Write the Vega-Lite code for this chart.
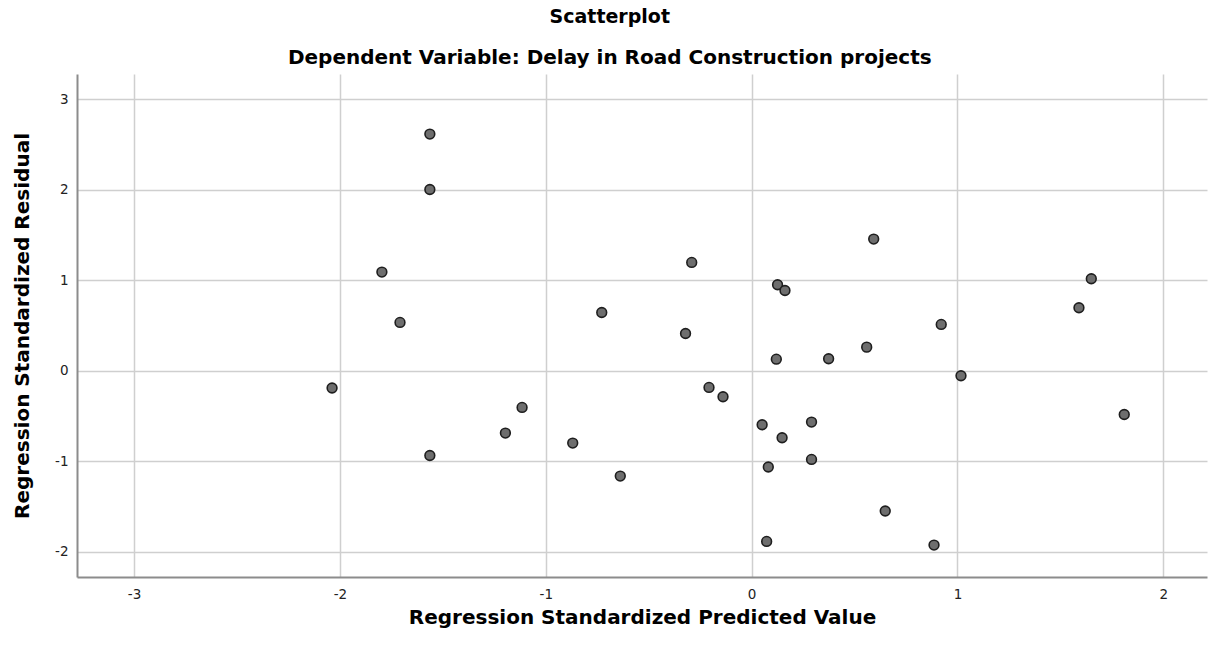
{
  "$schema": "https://vega.github.io/schema/vega-lite/v6.json",
  "autosize": {"type": "none"},
  "width": 1130,
  "height": 503,
  "padding": {"left": 77, "top": 74, "right": 12, "bottom": 71},
  "background": "white",
  "title": {
    "text": "Scatterplot",
    "subtitle": "Dependent Variable: Delay in Road Construction projects",
    "anchor": "middle",
    "frame": "bounds",
    "font": "DejaVu Sans",
    "fontSize": 19,
    "fontWeight": "bold",
    "color": "#000000",
    "subtitleFont": "DejaVu Sans",
    "subtitleFontSize": 20,
    "subtitleFontWeight": "bold",
    "subtitleColor": "#000000",
    "subtitlePadding": 21,
    "offset": 6
  },
  "config": {
    "view": {"stroke": null},
    "axis": {
      "labelFont": "DejaVu Sans",
      "labelFontSize": 13.5,
      "labelColor": "#222222",
      "titleFont": "DejaVu Sans",
      "titleFontWeight": "bold",
      "titleColor": "#000000",
      "ticks": false,
      "domainColor": "#8c8c8c",
      "domainWidth": 2,
      "gridColor": "#cfcfcf",
      "gridWidth": 1.5
    }
  },
  "data": {
    "values": [
      {"pred": -1.563, "resid": 2.615},
      {"pred": -1.563, "resid": 2.003},
      {"pred": -1.796, "resid": 1.09},
      {"pred": -1.708, "resid": 0.534},
      {"pred": -2.038, "resid": -0.191},
      {"pred": -1.563, "resid": -0.936},
      {"pred": -1.196, "resid": -0.689},
      {"pred": -1.115, "resid": -0.405},
      {"pred": -0.869, "resid": -0.799},
      {"pred": -0.291, "resid": 1.197},
      {"pred": -0.728, "resid": 0.644},
      {"pred": -0.321, "resid": 0.412},
      {"pred": -0.207, "resid": -0.184},
      {"pred": -0.139, "resid": -0.287},
      {"pred": -0.638, "resid": -1.164},
      {"pred": 0.593, "resid": 1.455},
      {"pred": 0.126, "resid": 0.95},
      {"pred": 0.162, "resid": 0.887},
      {"pred": 1.59, "resid": 0.696},
      {"pred": 0.921, "resid": 0.512},
      {"pred": 0.559, "resid": 0.261},
      {"pred": 0.374, "resid": 0.133},
      {"pred": 0.12, "resid": 0.128},
      {"pred": 1.017, "resid": -0.055},
      {"pred": 0.291, "resid": -0.567},
      {"pred": 0.148, "resid": -0.74},
      {"pred": 0.291, "resid": -0.98},
      {"pred": 0.649, "resid": -1.55},
      {"pred": 0.886, "resid": -1.926},
      {"pred": 0.051, "resid": -0.597},
      {"pred": 0.081, "resid": -1.064},
      {"pred": 0.073, "resid": -1.886},
      {"pred": 1.65, "resid": 1.017},
      {"pred": 1.81, "resid": -0.483}
    ]
  },
  "mark": {"type": "point", "shape": "circle", "filled": true, "fill": "#6e6e6e", "stroke": "#1e1e1e", "strokeWidth": 1.6, "size": 95, "opacity": 1, "fillOpacity": 1},
  "encoding": {
    "x": {
      "field": "pred",
      "type": "quantitative",
      "scale": {"domain": [-3.277, 2.212], "nice": false, "zero": false},
      "axis": {
        "values": [-3, -2, -1, 0, 1, 2],
        "labelExpr": "'' + datum.value",
        "title": "Regression Standardized Predicted Value",
        "titleFontSize": 20,
        "labelPadding": 10,
        "titlePadding": 7
      }
    },
    "y": {
      "field": "resid",
      "type": "quantitative",
      "scale": {"domain": [-2.279, 3.279], "nice": false, "zero": false},
      "axis": {
        "values": [-2, -1, 0, 1, 2, 3],
        "labelExpr": "'' + datum.value",
        "title": "Regression Standardized Residual",
        "titleFontSize": 20,
        "labelPadding": 9,
        "titlePadding": 22
      }
    }
  }
}
